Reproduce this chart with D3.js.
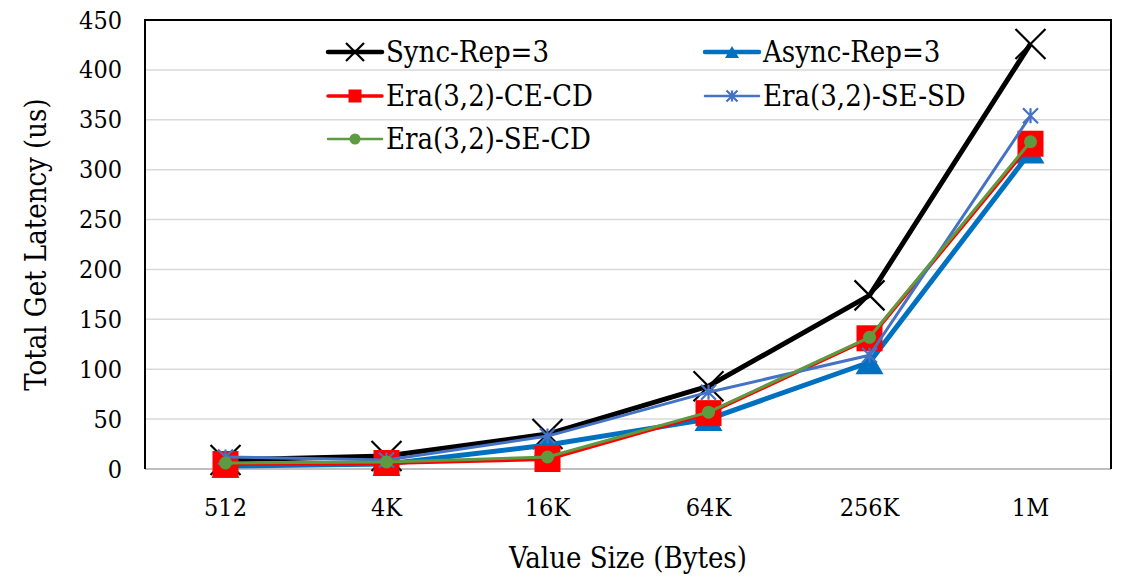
<!DOCTYPE html>
<html>
<head>
<meta charset="utf-8">
<script src="https://cdn.jsdelivr.net/npm/d3@7/dist/d3.min.js"></script>
<style>
  body { margin: 0; background: #fff; }
</style>
</head>
<body>
<svg id="chart" width="1122" height="580" font-family="DejaVu Serif Condensed, DejaVu Serif"></svg>
<script>
// data
const categories = ['512', '4K', '16K', '64K', '256K', '1M'];
const syncRep = [9, 13, 35, 83, 174, 426];
const asyncRep = [3, 5, 24, 50, 107, 318];
const eraCECD = [5, 6, 10, 56, 131, 326];
const eraSESD = [12, 9, 33, 77, 114, 354];
const eraSECD = [6, 7, 12, 57, 132, 328];
const yTicks = [0, 50, 100, 150, 200, 250, 300, 350, 400, 450];

const series = [
  { name: 'Sync-Rep=3', values: syncRep, color: '#000000', width: 5, marker: 'x', size: 30, legendSize: 18 },
  { name: 'Async-Rep=3', values: asyncRep, color: '#0070C0', width: 5, marker: 'triangle', size: 28, legendSize: 14 },
  { name: 'Era(3,2)-CE-CD', values: eraCECD, color: '#FF0000', width: 4, marker: 'square', size: 26, legendSize: 13 },
  { name: 'Era(3,2)-SE-SD', values: eraSESD, color: '#4472C4', width: 3, marker: 'star', size: 15, legendSize: 11 },
  { name: 'Era(3,2)-SE-CD', values: eraSECD, color: '#5E9B40', width: 3, marker: 'circle', size: 13, legendSize: 11 }
];

const svg = d3.select('#chart');
const margin = { left: 145, top: 20, right: 1111, bottom: 469 };

const x = d3.scaleBand().domain(categories).range([margin.left, margin.right]);
const y = d3.scaleLinear().domain([0, 450]).range([margin.bottom, margin.top]);
const cx = (d) => x(d) + x.bandwidth() / 2;

// gridlines
svg.append('g')
  .selectAll('line')
  .data(yTicks.filter((t) => t > 0 && t < 450))
  .enter()
  .append('line')
  .attr('x1', margin.left)
  .attr('x2', margin.right)
  .attr('y1', (d) => y(d))
  .attr('y2', (d) => y(d))
  .attr('stroke', '#D9D9D9')
  .attr('stroke-width', 1.5);

// frame: gray bottom axis, black left/top/right
svg.append('line')
  .attr('x1', margin.left).attr('x2', margin.right)
  .attr('y1', y(0)).attr('y2', y(0))
  .attr('stroke', '#BFBFBF').attr('stroke-width', 2);
svg.append('path')
  .attr('d', `M${margin.left},${y(0)}V${margin.top}H${margin.right}V${y(0)}`)
  .attr('fill', 'none')
  .attr('stroke', '#000')
  .attr('stroke-width', 2);

// y tick labels
const yAxis = svg.append('g')
  .attr('transform', `translate(${margin.left},0)`)
  .call(d3.axisLeft(y).tickValues(yTicks).tickSize(0).tickPadding(23));
yAxis.attr('font-family', null);
yAxis.select('.domain').remove();
yAxis.selectAll('text').attr('font-size', 25).attr('fill', '#000');

// x tick labels
const xAxis = svg.append('g')
  .attr('transform', `translate(0,${y(0)})`)
  .call(d3.axisBottom(x).tickSize(0).tickPadding(29));
xAxis.attr('font-family', null);
xAxis.select('.domain').remove();
xAxis.selectAll('text').attr('font-size', 25).attr('fill', '#000');

// axis titles
svg.append('text')
  .attr('x', (margin.left + margin.right) / 2)
  .attr('y', 568)
  .attr('text-anchor', 'middle')
  .attr('font-size', 29)
  .text('Value Size (Bytes)');

svg.append('text')
  .attr('transform', `translate(46,${(margin.top + margin.bottom) / 2}) rotate(-90)`)
  .attr('text-anchor', 'middle')
  .attr('font-size', 29)
  .text('Total Get Latency (us)');

function drawMarker(g, type, size, color) {
  const h = size / 2;
  if (type === 'x') {
    g.append('path')
      .attr('d', `M${-h},${-h}L${h},${h}M${-h},${h}L${h},${-h}`)
      .attr('stroke', color).attr('stroke-width', 2.2).attr('fill', 'none');
  } else if (type === 'triangle') {
    const th = size * 0.85;
    g.append('path')
      .attr('d', `M0,${-th / 2}L${h},${th / 2}L${-h},${th / 2}Z`)
      .attr('fill', color);
  } else if (type === 'square') {
    g.append('rect')
      .attr('x', -h).attr('y', -h).attr('width', size).attr('height', size)
      .attr('fill', color);
  } else if (type === 'star') {
    g.append('path')
      .attr('d', `M${-h},${-h}L${h},${h}M${-h},${h}L${h},${-h}M0,${-h}L0,${h}`)
      .attr('stroke', color).attr('stroke-width', 2.2).attr('fill', 'none');
  } else if (type === 'circle') {
    g.append('circle').attr('r', h).attr('fill', color);
  }
}

const line = d3.line()
  .x((d, i) => cx(categories[i]))
  .y((d) => y(d));

series.forEach((s) => {
  const g = svg.append('g');
  g.append('path')
    .attr('d', line(s.values))
    .attr('fill', 'none')
    .attr('stroke', s.color)
    .attr('stroke-width', s.width)
    .attr('stroke-linejoin', 'round');
  s.values.forEach((v, i) => {
    const m = g.append('g').attr('transform', `translate(${cx(categories[i])},${y(v)})`);
    drawMarker(m, s.marker, s.size, s.color);
  });
});

// legend
const legendPos = [
  { x: 328, y: 52 },
  { x: 705, y: 52 },
  { x: 328, y: 96 },
  { x: 705, y: 96 },
  { x: 328, y: 139 }
];
series.forEach((s, i) => {
  const p = legendPos[i];
  const g = svg.append('g').attr('transform', `translate(${p.x},${p.y})`);
  g.append('line')
    .attr('x1', 0).attr('x2', 54)
    .attr('stroke', s.color)
    .attr('stroke-width', s.width - 0.5)
    .attr('stroke-linecap', 'round');
  const m = g.append('g').attr('transform', 'translate(27,0)');
  drawMarker(m, s.marker, s.legendSize, s.color);
  g.append('text')
    .attr('x', 58)
    .attr('y', 0)
    .attr('dy', '0.35em')
    .attr('font-size', 29)
    .text(s.name);
});
</script>
</body>
</html>
